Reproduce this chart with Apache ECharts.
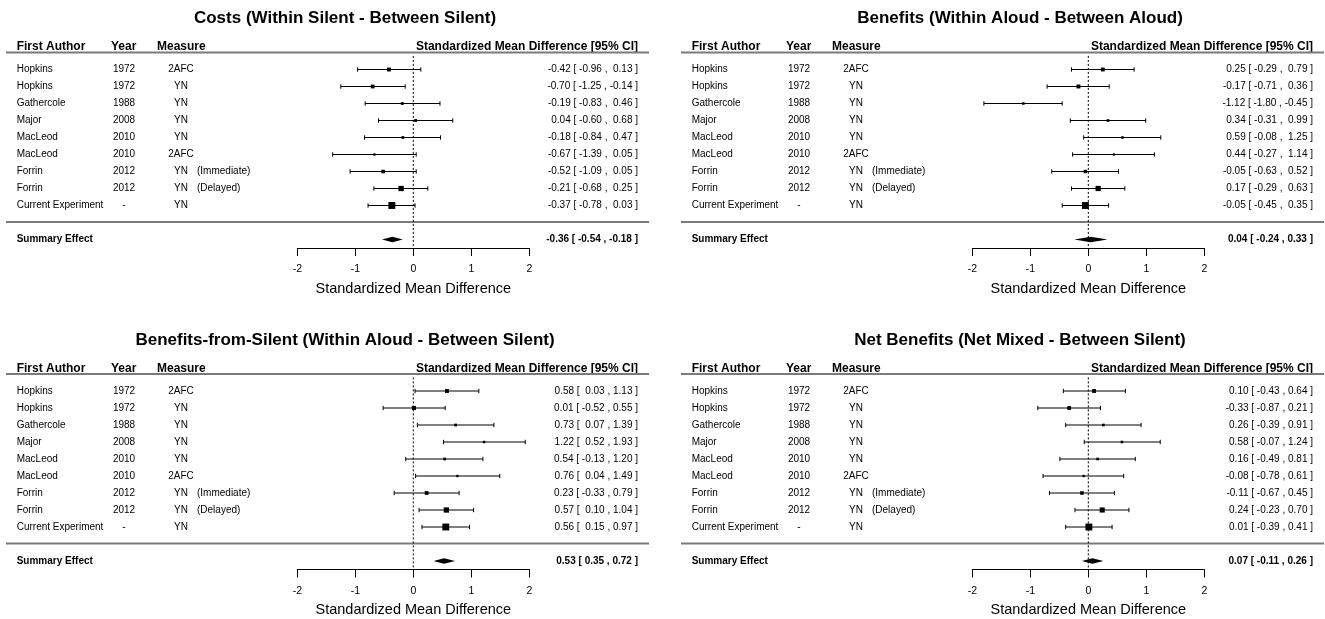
<!DOCTYPE html>
<html><head><meta charset="utf-8">
<script src="https://cdn.jsdelivr.net/npm/echarts@6/dist/echarts.min.js"></script>
<style>html,body{margin:0;padding:0;background:#fff}#c{width:1325px;height:619px}</style>
</head><body><div id="c"></div><script>
// ---- data ----
const authors = ['Hopkins','Hopkins','Gathercole','Major','MacLeod','MacLeod','Forrin','Forrin','Current Experiment'];
const years = ['1972','1972','1988','2008','2010','2010','2012','2012','-'];
const measures = ['2AFC','YN','YN','YN','YN','2AFC','YN','YN','YN'];
const notes = ['','','','','','','(Immediate)','(Delayed)',''];
const panelTitles = ['Costs (Within Silent - Between Silent)','Benefits (Within Aloud - Between Aloud)','Benefits-from-Silent (Within Aloud - Between Silent)','Net Benefits (Net Mixed - Between Silent)'];
const axisTicks = [-2,-1,0,1,2];

const costsEst   = [-0.42,-0.70,-0.19, 0.04,-0.18,-0.67,-0.52,-0.21,-0.37];
const costsLower = [-0.96,-1.25,-0.83,-0.60,-0.84,-1.39,-1.09,-0.68,-0.78];
const costsUpper = [ 0.13,-0.14, 0.46, 0.68, 0.47, 0.05, 0.05, 0.25, 0.03];
const costsSummary = [-0.36,-0.54,-0.18];

const benefitsEst   = [ 0.25,-0.17,-1.12, 0.34, 0.59, 0.44,-0.05, 0.17,-0.05];
const benefitsLower = [-0.29,-0.71,-1.80,-0.31,-0.08,-0.27,-0.63,-0.29,-0.45];
const benefitsUpper = [ 0.79, 0.36,-0.45, 0.99, 1.25, 1.14, 0.52, 0.63, 0.35];
const benefitsSummary = [0.04,-0.24,0.33];

const fromSilentEst   = [0.58, 0.01,0.73,1.22, 0.54,0.76, 0.23,0.57,0.56];
const fromSilentLower = [0.03,-0.52,0.07,0.52,-0.13,0.04,-0.33,0.10,0.15];
const fromSilentUpper = [1.13, 0.55,1.39,1.93, 1.20,1.49, 0.79,1.04,0.97];
const fromSilentSummary = [0.53,0.35,0.72];

const netEst   = [ 0.10,-0.33, 0.26, 0.58, 0.16,-0.08,-0.11, 0.24, 0.01];
const netLower = [-0.43,-0.87,-0.39,-0.07,-0.49,-0.78,-0.67,-0.23,-0.39];
const netUpper = [ 0.64, 0.21, 0.91, 1.24, 0.81, 0.61, 0.45, 0.70, 0.41];
const netSummary = [0.07,-0.11,0.26];

// ---- layout ----
const panelData = [
  {est:costsEst, lo:costsLower, hi:costsUpper, sum:costsSummary},
  {est:benefitsEst, lo:benefitsLower, hi:benefitsUpper, sum:benefitsSummary},
  {est:fromSilentEst, lo:fromSilentLower, hi:fromSilentUpper, sum:fromSilentSummary},
  {est:netEst, lo:netLower, hi:netUpper, sum:netSummary}
];
const offsets = [[0,0],[675,0],[0,321.5],[675,321.5]];
const ROW_H = 17.0, SUM_ROW = 10, SEP_ROW = 8.97, HDR_LINE_ROW = -1.0, HDR_ROW = -1.34, TITLE_ROW = -3.0;
const FF = '"Liberation Sans", Arial, Helvetica, sans-serif';
// format like R's format(): pad a column with a leading space when it contains negatives
const fmtCol = arr => { const pad = arr.some(v => v < 0); return v => (pad && v >= 0 ? ' ' : '') + v.toFixed(2); };
const ciText = (e,l,h,fe,fl,fh) => fe(e) + ' [ ' + fl(l) + ' , ' + fh(h) + ' ]';

const grids = [], xAxes = [], yAxes = [], series = [];
offsets.forEach(([ox,oy], p) => {
  const d = panelData[p];
  const fe = fmtCol(d.est), fl = fmtCol(d.lo), fh = fmtCol(d.hi);
  const plain = v => v.toFixed(2);
  grids.push({left: ox + 297.3, width: 232, top: oy + 69.5, height: ROW_H * SUM_ROW});
  xAxes.push({gridIndex:p, type:'value', min:axisTicks[0], max:axisTicks[axisTicks.length-1], interval:1, offset:8.5,
    axisLine:{show:true, onZero:false, lineStyle:{color:'#000', width:1}},
    axisTick:{show:true, length:8, lineStyle:{color:'#000', width:1}},
    axisLabel:{color:'#000', fontSize:10.5, margin:16, fontFamily:FF},
    splitLine:{show:false},
    name:'Standardized Mean Difference', nameLocation:'middle', nameGap:33,
    nameTextStyle:{fontSize:14.5, color:'#000', fontFamily:FF}});
  yAxes.push({gridIndex:p, type:'value', min:0, max:SUM_ROW, inverse:true, show:false});

  // per-study weights (inverse variance from CI width), scaled like metafor psize
  const w = d.lo.map((l,i) => { const se = (d.hi[i]-l)/3.92; return 1/(se*se); });
  const wmin = Math.min(...w), wmax = Math.max(...w);
  const psize = w.map(v => 0.5 + (v - wmin)/(wmax - wmin));

  // decorations: title, header, lines, dotted zero line
  series.push({type:'custom', xAxisIndex:p, yAxisIndex:p, clip:false, silent:true,
    data:[[0, 0]],
    renderItem:(params, api) => {
      const yT = api.coord([0, TITLE_ROW])[1];
      const yH = api.coord([0, HDR_ROW])[1];
      const yL = api.coord([0, HDR_LINE_ROW])[1];
      const yS = api.coord([0, SEP_ROW])[1];
      const zero = api.coord([0, SUM_ROW]);
      const yTop = api.coord([0, HDR_LINE_ROW + 0.2])[1];
      const hdr = (t, x, align) => ({type:'text', style:{text:t, x:ox + x, y:yH, align:align, verticalAlign:'middle', font:'bold 12px ' + FF, fill:'#000'}});
      return {type:'group', children:[
        {type:'text', style:{text:panelTitles[p], x:ox + 345, y:yT, align:'center', verticalAlign:'middle', font:'bold 17px ' + FF, fill:'#000'}},
        hdr('First Author', 16.7, 'left'), hdr('Year', 111, 'left'), hdr('Measure', 157, 'left'),
        hdr('Standardized Mean Difference [95% CI]', 638, 'right'),
        {type:'line', shape:{x1:ox + 6, y1:yL, x2:ox + 649, y2:yL}, style:{stroke:'#7a7a7a', lineWidth:2}},
        {type:'line', shape:{x1:ox + 6, y1:yS, x2:ox + 649, y2:yS}, style:{stroke:'#7a7a7a', lineWidth:2}},
        {type:'line', shape:{x1:zero[0], y1:yTop, x2:zero[0], y2:zero[1] + 8.5}, style:{stroke:'#000', lineWidth:1, lineDash:[2,2]}}
      ]};
    }});

  // studies
  series.push({type:'custom', xAxisIndex:p, yAxisIndex:p, clip:false, silent:true,
    data: d.est.map((e,i) => [e, i, d.lo[i], d.hi[i]]),
    encode:{x:0, y:1},
    renderItem:(params, api) => {
      const i = params.dataIndex;
      const c = api.coord([api.value(0), api.value(1)]);
      const l = api.coord([api.value(2), api.value(1)]);
      const h = api.coord([api.value(3), api.value(1)]);
      const s = psize[i] * 4.6;
      const y = c[1];
      const txt = (t, x, align) => ({type:'text', style:{text:t, x:ox + x, y:y, align:align, verticalAlign:'middle', font:'10px ' + FF, fill:'#000'}});
      const ch = [
        {type:'line', shape:{x1:l[0], y1:y, x2:h[0], y2:y}, style:{stroke:'#000', lineWidth:1}},
        {type:'line', shape:{x1:l[0], y1:y-2.2, x2:l[0], y2:y+2.2}, style:{stroke:'#000', lineWidth:1}},
        {type:'line', shape:{x1:h[0], y1:y-2.2, x2:h[0], y2:y+2.2}, style:{stroke:'#000', lineWidth:1}},
        {type:'rect', shape:{x:c[0]-s/2, y:y-s/2, width:s, height:s}, style:{fill:'#000'}},
        txt(authors[i], 16.7, 'left'), txt(years[i], 124, 'center'), txt(measures[i], 181, 'center'),
        txt(ciText(api.value(0), api.value(2), api.value(3), fe, fl, fh), 638, 'right')
      ];
      if (notes[i]) ch.push(txt(notes[i], 197, 'left'));
      return {type:'group', children:ch};
    }});

  // summary effect
  series.push({type:'custom', xAxisIndex:p, yAxisIndex:p, clip:false, silent:true,
    data:[[d.sum[0], SUM_ROW, d.sum[1], d.sum[2]]],
    encode:{x:0, y:1},
    renderItem:(params, api) => {
      const c = api.coord([api.value(0), api.value(1)]);
      const l = api.coord([api.value(2), api.value(1)]);
      const h = api.coord([api.value(3), api.value(1)]);
      const y = c[1], hh = 2.7;
      return {type:'group', children:[
        {type:'polygon', shape:{points:[[l[0],y],[c[0],y-hh],[h[0],y],[c[0],y+hh]]}, style:{fill:'#000'}},
        {type:'text', style:{text:'Summary Effect', x:ox + 16.7, y:y, align:'left', verticalAlign:'middle', font:'bold 10px ' + FF, fill:'#000'}},
        {type:'text', style:{text:ciText(api.value(0), api.value(2), api.value(3), plain, plain, plain), x:ox + 638, y:y, align:'right', verticalAlign:'middle', font:'bold 10px ' + FF, fill:'#000'}}
      ]};
    }});
});

const chart = echarts.init(document.getElementById('c'), null, {renderer:'canvas'});
chart.setOption({animation:false, backgroundColor:'#fff', grid:grids, xAxis:xAxes, yAxis:yAxes, series:series});
</script></body></html>
